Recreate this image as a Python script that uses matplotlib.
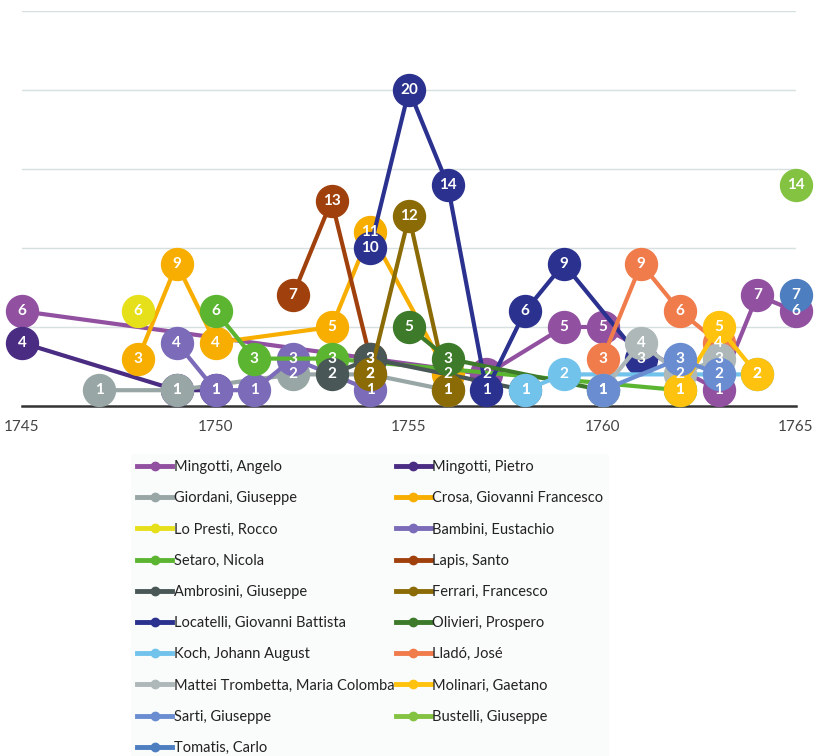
import matplotlib.pyplot as plt
from matplotlib.lines import Line2D

# ---- data: one entry per singer, years active and number of roles ----
names = ["Mingotti, Angelo", "Mingotti, Pietro", "Giordani, Giuseppe",
         "Crosa, Giovanni Francesco", "Lo Presti, Rocco", "Bambini, Eustachio",
         "Setaro, Nicola", "Lapis, Santo", "Ambrosini, Giuseppe",
         "Ferrari, Francesco", "Locatelli, Giovanni Battista", "Olivieri, Prospero",
         "Koch, Johann August", "Lladó, José", "Mattei Trombetta, Maria Colomba",
         "Molinari, Gaetano", "Sarti, Giuseppe", "Bustelli, Giuseppe", "Tomatis, Carlo"]

years = [
    [1745, 1757, 1759, 1760, 1763, 1764, 1765],   # Mingotti A
    [1745, 1749, 1750],                           # Mingotti P
    [1747, 1749, 1752, 1754, 1756],               # Giordani
    [1748, 1749, 1750, 1753, 1754, 1756],         # Crosa
    [1748],                                       # Lo Presti
    [1749, 1750, 1751, 1752, 1754],               # Bambini
    [1750, 1751, 1753, 1762],                     # Setaro
    [1752, 1753, 1754],                           # Lapis
    [1753, 1754, 1758],                           # Ambrosini
    [1754, 1755, 1756],                           # Ferrari
    [1754, 1755, 1756, 1757, 1758, 1759, 1761],   # Locatelli
    [1755, 1756, 1760],                           # Olivieri
    [1758, 1759, 1764],                           # Koch
    [1760, 1761, 1762, 1763],                     # Llado
    [1760, 1761, 1762, 1763],                     # Mattei Trombetta
    [1762, 1763, 1764],                           # Molinari
    [1760, 1762, 1763],                           # Sarti
    [1765],                                       # Bustelli
    [1765],                                       # Tomatis
]

counts = [
    [6, 2, 5, 5, 1, 7, 6],
    [4, 1, 1],
    [1, 1, 2, 2, 1],
    [3, 9, 4, 5, 11, 2],
    [6],
    [4, 1, 1, 3, 1],
    [6, 3, 3, 1],
    [7, 13, 3],
    [2, 3, 1],
    [2, 12, 1],
    [10, 20, 14, 1, 6, 9, 3],
    [5, 3, 1],
    [1, 2, 2],
    [3, 9, 6, 4],
    [1, 4, 2, 3],
    [1, 5, 2],
    [1, 3, 2],
    [14],
    [7],
]

colors = ["#9150A0", "#4B2C83", "#98A6A6", "#F7AE00", "#E6E01A", "#7B6BB8",
          "#5CB531", "#A0410D", "#495857", "#8B6B05", "#2B318E", "#3D7B2A",
          "#72C3EC", "#F07C4C", "#AEB8B8", "#FFC20E", "#6A8DD1", "#84C341",
          "#4C7EC0"]

plt.rcParams['font.family'] = ['Lato', 'DejaVu Sans']

fig = plt.figure(figsize=(8.14, 7.56), dpi=100)
ax = fig.add_axes([22/814, 1 - 406/756, 774/814, 395/756])

# one series at a time, line + markers together like the spreadsheet does
for i in range(len(names)):
    ax.plot(years[i], counts[i], '-o', color=colors[i], lw=3, ms=23,
            zorder=3 + i, clip_on=False)

# data labels on top of everything
for i in range(len(names)):
    for x, y in zip(years[i], counts[i]):
        ax.text(x, y, str(y), color='white', fontsize=11, fontweight='bold',
                ha='center', va='center', zorder=50, clip_on=False)

ax.set_xlim(1745, 1765)
ax.set_ylim(0, 25)
ax.set_xticks([1745, 1750, 1755, 1760, 1765])
ax.set_yticks([5, 10, 15, 20, 25])
ax.tick_params(axis='x', length=0, pad=10, labelsize=11, labelcolor='#444444')
ax.tick_params(axis='y', length=0, labelleft=False)
ax.grid(axis='y', color='#D6E0E0', lw=1)
ax.set_axisbelow(True)
for s in ['top', 'right', 'left']:
    ax.spines[s].set_visible(False)
ax.spines['bottom'].set_color('#333333')
ax.spines['bottom'].set_linewidth(1.8)

# legend, filled row by row (matplotlib fills column by column)
handles = [Line2D([0], [0], color=c, lw=3.5, marker='o', ms=6) for c in colors]
order = list(range(0, len(names), 2)) + list(range(1, len(names), 2))
leg = fig.legend([handles[k] for k in order], [names[k] for k in order],
                 ncol=2, loc='upper left',
                 bbox_to_anchor=(124/814, 1 - 447/756), fontsize=10.5,
                 handlelength=2.4, handletextpad=0.1, columnspacing=0.1,
                 labelspacing=1.18, frameon=True, borderpad=0.4)
leg.get_frame().set_facecolor('#F9FAFA')
leg.get_frame().set_edgecolor('none')
for t in leg.get_texts():
    t.set_color('#222222')

fig.savefig('out.png', dpi=100)
